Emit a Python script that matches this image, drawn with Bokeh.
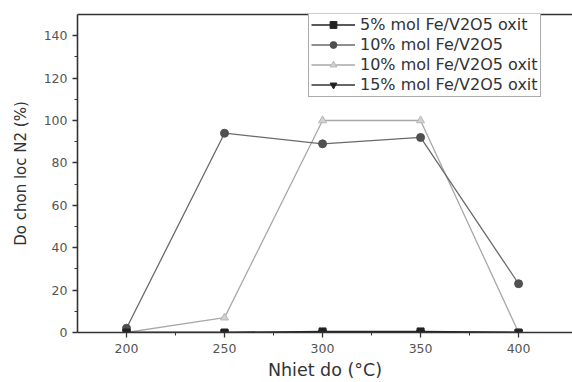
from bokeh.plotting import figure
from bokeh.models import Range1d, Legend, LegendItem, FixedTicker, LinearAxis
from bokeh.embed import file_html
from bokeh.resources import INLINE

temps = [200, 250, 300, 350, 400]
fe5_oxit = [0, 0, 0.5, 0.5, 0]
fe10 = [2, 94, 89, 92, 23]
fe10_oxit = [0, 7, 100, 100, 0]
fe15_oxit = [0, 0, 0, 0, 0]

labels = ["5% mol Fe/V2O5 oxit", "10% mol Fe/V2O5",
          "10% mol Fe/V2O5 oxit", "15% mol Fe/V2O5 oxit"]

p = figure(width=572, height=382, output_backend="svg", toolbar_location=None,
           x_range=Range1d(175, 427.5), y_range=Range1d(0, 150),
           min_border_left=77, min_border_right=0, min_border_top=14,
           min_border_bottom=50)
p.background_fill_color = "white"
p.border_fill_color = "white"
p.grid.visible = False
p.outline_line_color = None

font = "DejaVu Sans"
for ax in (p.xaxis[0], p.yaxis[0]):
    ax.axis_line_color = "#333333"
    ax.axis_line_width = 1.6
    ax.major_tick_line_color = "#333333"
    ax.minor_tick_line_color = "#333333"
    ax.major_tick_line_width = 1.3
    ax.major_tick_out = 5
    ax.major_tick_in = 0
    ax.minor_tick_out = 3
    ax.minor_tick_in = 0
    ax.major_label_text_font = font
    ax.major_label_text_font_size = "12.5px"
    ax.major_label_text_color = "#555555"
    ax.axis_label_text_font = font
    ax.axis_label_text_font_style = "normal"
    ax.axis_label_text_color = "#333333"

p.xaxis.ticker = FixedTicker(ticks=temps, minor_ticks=[225, 275, 325, 375])
p.yaxis.ticker = FixedTicker(ticks=[0, 20, 40, 60, 80, 100, 120, 140],
                             minor_ticks=[10, 30, 50, 70, 90, 110, 130])
p.xaxis.axis_label = "Nhiet do (°C)"
p.yaxis.axis_label = "Do chon loc N2 (%)"
p.xaxis.axis_label_standoff = 4
p.xaxis.axis_label_text_font_size = "17.5px"
p.yaxis.axis_label_text_font_size = "15px"
p.yaxis.axis_label_standoff = 11
p.xaxis.major_label_standoff = 6
p.yaxis.major_label_standoff = 5

top = LinearAxis(ticker=FixedTicker(ticks=[]), axis_line_color="#333333",
                 axis_line_width=1.6, major_tick_line_color=None,
                 minor_tick_line_color=None, major_label_text_font_size="0px")
p.add_layout(top, "above")

# 10% oxit (light grey triangles)
l3 = p.line(temps, fe10_oxit, line_color="#a8a8a8", line_width=1.3)
m3 = p.scatter(temps, fe10_oxit, marker="triangle", size=8,
               fill_color="#d0d0d0", line_color="#b8b8b8")
# 10% (grey circles)
l2 = p.line(temps, fe10, line_color="#6a6a6a", line_width=1.3)
m2 = p.scatter(temps, fe10, marker="circle", size=8,
               fill_color="#505050", line_color="#505050")
# 5% oxit (black squares)
l1 = p.line(temps, fe5_oxit, line_color="#222222", line_width=1.6)
m1 = p.scatter(temps, fe5_oxit, marker="square", size=7,
               fill_color="#222222", line_color="#222222")
# 15% oxit (black down triangles)
l4 = p.line(temps, fe15_oxit, line_color="#333333", line_width=1.3)
m4 = p.scatter(temps, fe15_oxit, marker="inverted_triangle", size=8,
               fill_color="#222222", line_color="#222222")

items = [LegendItem(label=labels[0], renderers=[l1, m1]),
         LegendItem(label=labels[1], renderers=[l2, m2]),
         LegendItem(label=labels[2], renderers=[l3, m3]),
         LegendItem(label=labels[3], renderers=[l4, m4])]

legend = Legend(items=items, location=(231, 235))
legend.label_text_font = font
legend.label_text_font_size = "16px"
legend.label_text_color = "#333333"
legend.glyph_width = 44
legend.glyph_height = 17
legend.spacing = 1
legend.label_standoff = 5
legend.padding = 2
legend.margin = 0
legend.border_line_color = "#555555"
legend.border_line_width = 1
legend.background_fill_alpha = 1
p.add_layout(legend, "center")

open("out.html", "w").write(file_html(p, INLINE))
